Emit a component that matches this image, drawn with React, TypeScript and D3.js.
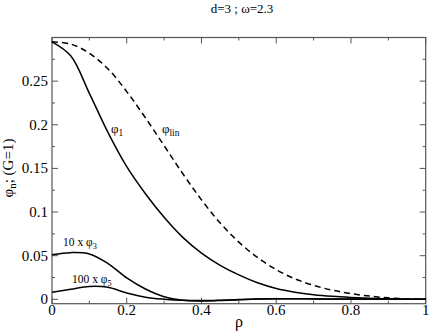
import React, { useRef, useEffect } from 'react'
import * as d3 from 'd3'

// rho grid shared by all curves
const rho = [0, 0.05, 0.1, 0.15, 0.2, 0.25, 0.3, 0.35, 0.4, 0.45, 0.5, 0.55, 0.6, 0.65, 0.7, 0.75, 0.8, 0.85, 0.9, 0.95, 1.0]

const phiLin = [0.295, 0.2925, 0.282, 0.264, 0.238, 0.208, 0.176, 0.144, 0.114, 0.0875, 0.0655, 0.048, 0.034, 0.0235, 0.016, 0.0105, 0.0065, 0.0037, 0.0017, 0.0005, 0]
const phi1 = [0.295, 0.279, 0.236, 0.191, 0.152, 0.121, 0.094, 0.071, 0.053, 0.039, 0.028, 0.019, 0.0125, 0.0082, 0.0053, 0.0034, 0.0021, 0.0012, 0.0006, 0.0002, 0]
const phi3x10 = [0.051, 0.0535, 0.052, 0.041, 0.0245, 0.0118, 0.003, -0.001, -0.0018, -0.0014, -0.0005, 0.0003, 0.0007, 0.0008, 0.0006, 0.0004, 0.0003, 0.0002, 0.0001, 0, 0]
const phi5x100 = [0.008, 0.0115, 0.0148, 0.0138, 0.0072, 0.0025, 0.0002, -0.0011, -0.0014, -0.001, -0.0003, 0.0003, 0.0006, 0.0006, 0.0005, 0.0003, 0.0002, 0.0001, 0.0001, 0, 0]

const xTicks = [0, 0.2, 0.4, 0.6, 0.8, 1]
const xTickLabels = ['0', '0.2', '0.4', '0.6', '0.8', '1']
const yTicks = [0, 0.05, 0.1, 0.15, 0.2, 0.25]
const yTickLabels = ['0', '0.05', '0.1', '0.15', '0.2', '0.25']

const FONT = "'Liberation Serif'"

const App = () => {
  const ref = useRef<SVGSVGElement>(null)

  useEffect(() => {
    document.body.style.margin = '0'
    const svg = d3.select(ref.current)
    svg.selectAll('*').remove()

    const width = 436
    const height = 334
    const margin = { top: 37.5, right: 10.3, bottom: 30.3, left: 52 }

    const x = d3.scaleLinear().domain([0, 1]).range([margin.left, width - margin.right])
    const y = d3.scaleLinear().domain([-0.005, 0.3]).range([height - margin.bottom, margin.top])

    const line = (vals: number[]) =>
      d3.line<number>()
        .x((d, i) => x(rho[i]))
        .y(d => y(d))
        .curve(d3.curveCatmullRom.alpha(0.5))(vals)

    const frame = '#555'
    const x0 = x(0), x1 = x(1), y0 = y(-0.005), y1 = y(0.3)

    // inward ticks on all four sides
    const xMinor = d3.range(0.1, 1, 0.2)
    const yMinor = d3.range(0.025, 0.3, 0.05)
    const tk = svg.append('g').attr('stroke', frame).attr('stroke-width', 1)
    xTicks.forEach(t => {
      tk.append('line').attr('x1', x(t)).attr('x2', x(t)).attr('y1', y0).attr('y2', y0 - 6)
      tk.append('line').attr('x1', x(t)).attr('x2', x(t)).attr('y1', y1).attr('y2', y1 + 6)
    })
    xMinor.forEach(t => {
      tk.append('line').attr('x1', x(t)).attr('x2', x(t)).attr('y1', y0).attr('y2', y0 - 3)
      tk.append('line').attr('x1', x(t)).attr('x2', x(t)).attr('y1', y1).attr('y2', y1 + 3)
    })
    yTicks.forEach(t => {
      tk.append('line').attr('x1', x0).attr('x2', x0 + 6).attr('y1', y(t)).attr('y2', y(t))
      tk.append('line').attr('x1', x1).attr('x2', x1 - 6).attr('y1', y(t)).attr('y2', y(t))
    })
    yMinor.forEach(t => {
      tk.append('line').attr('x1', x0).attr('x2', x0 + 3).attr('y1', y(t)).attr('y2', y(t))
      tk.append('line').attr('x1', x1).attr('x2', x1 - 3).attr('y1', y(t)).attr('y2', y(t))
    })

    svg.append('rect')
      .attr('x', x0).attr('y', y1)
      .attr('width', x1 - x0).attr('height', y0 - y1)
      .attr('fill', 'none').attr('stroke', frame).attr('stroke-width', 1.2)

    // tick labels
    svg.append('g').selectAll('text').data(xTicks).join('text')
      .attr('x', d => x(d)).attr('y', 315)
      .attr('text-anchor', 'middle').attr('fill', '#000')
      .style('font-family', FONT).attr('font-size', 15)
      .text((d, i) => xTickLabels[i])
    svg.append('g').selectAll('text').data(yTicks).join('text')
      .attr('x', x0 - 4).attr('y', d => y(d) + 5)
      .attr('text-anchor', 'end').attr('fill', '#000')
      .style('font-family', FONT).attr('font-size', 15)
      .text((d, i) => yTickLabels[i])

    // curves
    const curves = [
      { v: phiLin, dash: '6,4' },
      { v: phi1, dash: null },
      { v: phi3x10, dash: null },
      { v: phi5x100, dash: null },
    ]
    curves.forEach(c => {
      svg.append('path')
        .attr('d', line(c.v))
        .attr('fill', 'none')
        .attr('stroke', '#000')
        .attr('stroke-width', 1.5)
        .attr('stroke-dasharray', c.dash)
    })

    // plain text pieces, no tspans: subscript placed after the measured main text
    const txt = (g: any, tx: number, ty: number, s: string, size: number) =>
      g.append('text').attr('x', tx).attr('y', ty).attr('fill', '#000')
        .style('font-family', FONT).attr('font-size', size).text(s)

    const lab = (g: any, tx: number, ty: number, main: string, sub: string, size: number) => {
      const m = txt(g, tx, ty, main, size)
      const w = (m.node() as SVGTextElement).getComputedTextLength()
      const s = txt(g, tx + w, ty + 3, sub, size * 0.72)
      return w + (s.node() as SVGTextElement).getComputedTextLength()
    }
    lab(svg, 111, 133, 'φ', '1', 13)
    lab(svg, 162, 133, 'φ', 'lin', 13)
    lab(svg, 63, 246, '10 x φ', '3', 11.5)
    lab(svg, 72, 283, '100 x φ', '5', 11.5)

    // title and axis titles
    txt(svg, 242, 13, 'd=3 ; ω=2.3', 13).attr('text-anchor', 'middle')
    txt(svg, 239, 327, 'ρ', 16).attr('text-anchor', 'middle')

    const yg = svg.append('g').attr('transform', 'translate(13,168) rotate(-90)')
    const yw = lab(yg, 0, 0, 'φ', 'n', 15)
    const rest = txt(yg, yw, 0, ' ; (G=1)', 15)
    const total = yw + (rest.node() as SVGTextElement).getComputedTextLength()
    yg.selectAll('text').attr('transform', `translate(${-total / 2},0)`)
  })

  return (
    <div>
      <svg ref={ref} width={436} height={334} style={{ display: 'block', fontFamily: FONT }} />
    </div>
  )
}

export default App
